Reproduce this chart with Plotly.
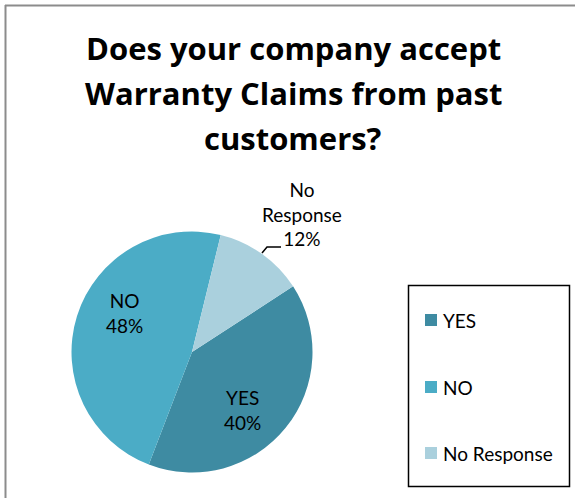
import plotly.graph_objects as go

categories = ["YES", "NO", "No Response"]
values = [40, 48, 12]
colors = ["#3E8BA2", "#4BACC6", "#AAD0DD"]
title_lines = ["Does your company accept", "Warranty Claims from past", "customers?"]

W, H = 575, 498
def X(px): return px / W
def Y(py): return 1 - py / H

total = sum(values)
pcts = [round(v * 100 / total) for v in values]

FONT = "Lato, 'Open Sans', sans-serif"
TFONT = "'Open Sans', Lato, sans-serif"

fig = go.Figure()
fig.add_trace(go.Pie(
    labels=categories,
    values=values,
    sort=False,
    direction="clockwise",
    rotation=57,
    marker=dict(colors=colors, line=dict(width=0)),
    textinfo="none",
    domain=dict(x=[X(71.5), X(312.5)], y=[Y(472.5), Y(231.5)]),
    showlegend=False,
    hoverinfo="label+percent",
))

annotations = []
shapes = []

# Title
for i, line in enumerate(title_lines):
    annotations.append(dict(
        text=f"<b>{line}</b>", x=X(293), y=Y(48 + i * 45), xref="paper", yref="paper",
        xanchor="center", yanchor="middle", showarrow=False,
        font=dict(family=TFONT, size=31, color="#000000")))

# Data labels
label_pos = [(242, 410), (124, 313), (302, 214)]
label_txt = [f"{categories[0]}<br>{pcts[0]}%", f"{categories[1]}<br>{pcts[1]}%", f"No<br>Response<br>{pcts[2]}%"]
for (lx, ly), t in zip(label_pos, label_txt):
    annotations.append(dict(
        text=t, x=X(lx), y=Y(ly), xref="paper", yref="paper",
        xanchor="center", yanchor="middle", showarrow=False,
        font=dict(family=FONT, size=19, color="#000000")))
shapes.append(dict(type="path", xref="paper", yref="paper",
                   path=f"M {X(262)},{Y(253)} L {X(267)},{Y(247)} L {X(281)},{Y(247)}",
                   line=dict(color="#000000", width=1.5)))

# Chart border (top and left visible)
shapes.append(dict(type="line", xref="paper", yref="paper", x0=X(5), x1=X(600), y0=Y(5.5), y1=Y(5.5),
                   line=dict(color="#8C8C8C", width=2)))
shapes.append(dict(type="line", xref="paper", yref="paper", x0=X(5.5), x1=X(5.5), y0=Y(5), y1=Y(520),
                   line=dict(color="#8C8C8C", width=2)))

# Legend box
shapes.append(dict(type="rect", xref="paper", yref="paper", x0=X(408.5), x1=X(569.5), y0=Y(285.5), y1=Y(486.5),
                   line=dict(color="#000000", width=1.5), fillcolor="rgba(0,0,0,0)"))
leg_y = [320, 387, 453]
for cat, col, ly in zip(categories, colors, leg_y):
    shapes.append(dict(type="rect", xref="paper", yref="paper", x0=X(425), x1=X(437), y0=Y(ly - 6), y1=Y(ly + 6),
                       line=dict(width=0), fillcolor=col))
    annotations.append(dict(text=cat, x=X(441), y=Y(ly), xref="paper", yref="paper",
                            xanchor="left", yanchor="middle", showarrow=False,
                            font=dict(family=FONT, size=19, color="#000000")))

fig.update_layout(
    width=W, height=H,
    margin=dict(l=0, r=0, t=0, b=0),
    paper_bgcolor="#FFFFFF",
    plot_bgcolor="#FFFFFF",
    annotations=annotations,
    shapes=shapes,
)

fig.write_html("out.html", config={"displayModeBar": False},
               post_script="document.body.style.margin='0px';")
